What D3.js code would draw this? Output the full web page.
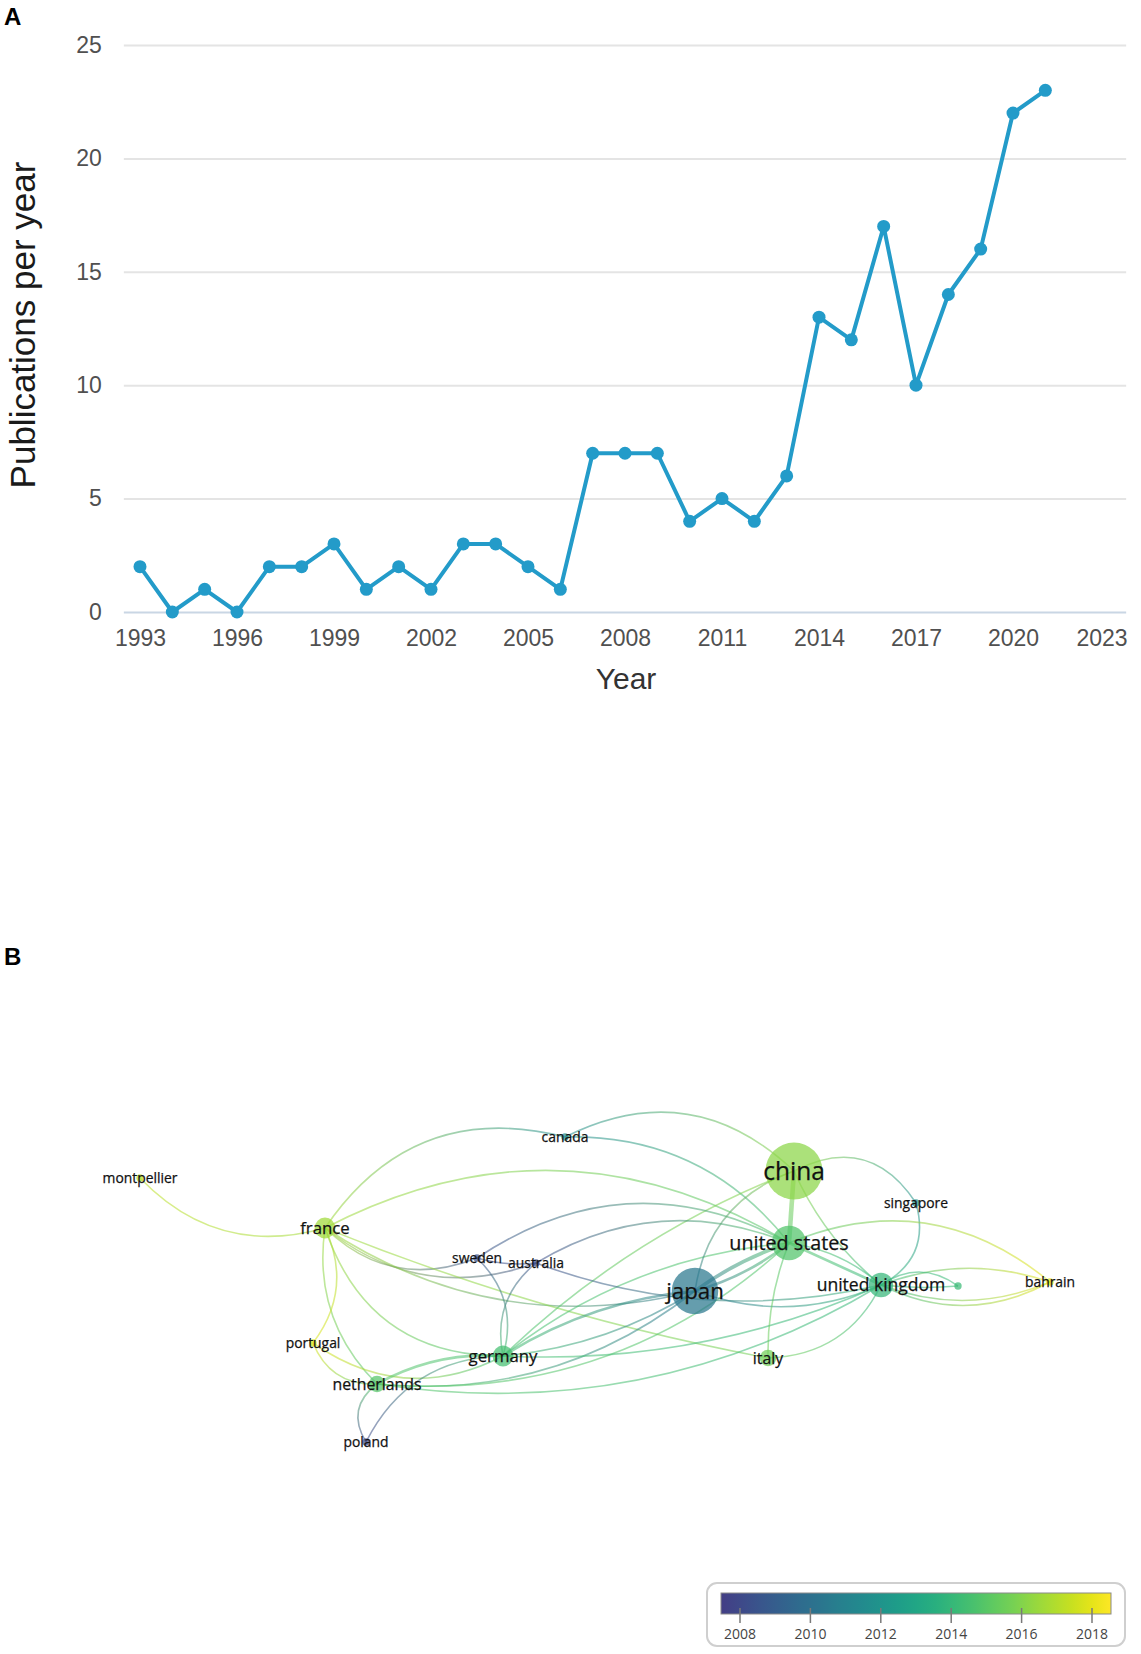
<!DOCTYPE html>
<html>
<head>
<meta charset="utf-8">
<script src="https://cdn.jsdelivr.net/npm/d3@7"></script>
<style>
  body { margin: 0; background: #fff; }
  svg { display: block; }
</style>
</head>
<body>
<svg id="chart" width="1141" height="1654"></svg>
<script>
// ---- panel A data ----
const years = [1993, 1994, 1995, 1996, 1997, 1998, 1999, 2000, 2001, 2002, 2003, 2004, 2005, 2006, 2007,
  2008, 2009, 2010, 2011, 2012, 2013, 2014, 2015, 2016, 2017, 2018, 2019, 2020, 2021];
const pubs = [2, 0, 1, 0, 2, 2, 3, 1, 2, 1, 3, 3, 2, 1, 7, 7, 7, 4, 5, 4, 6, 13, 12, 17, 10, 14, 16, 22, 23];
const xTicks = [1993, 1996, 1999, 2002, 2005, 2008, 2011, 2014, 2017, 2020, 2023];
const yTicks = [0, 5, 10, 15, 20, 25];

// ---- panel B data (VOSviewer-like map coordinates) ----
const countries = ["montpellier", "france", "canada", "china", "singapore", "united states", "sweden",
  "australia", "japan", "united kingdom", "", "bahrain", "portugal", "germany", "italy", "netherlands", "poland"];
const mapX = [-4.50, -2.65, -0.25, 2.04, 3.26, 1.99, -1.13, -0.54, 1.05, 2.91, 3.68, 4.60, -2.77, -0.87, 1.78, -2.13, -2.24];
const mapY = [-1.12, -0.62, -1.53, -1.19, -0.87, -0.47, -0.32, -0.27, 0.01, -0.05, -0.04, -0.08, 0.53, 0.66, 0.68, 0.94, 1.52];
const docs = [1, 8, 1, 60, 1, 22, 1, 1, 40, 11, 1, 1, 1, 8, 5, 5, 1];
const avgYear = [2017.2, 2016.6, 2011.6, 2016.2, 2011.8, 2014.8, 2008.4, 2008.2, 2010.4, 2014.0, 2014.2,
  2018.0, 2017.8, 2014.5, 2015.6, 2014.9, 2008.0];
// [source, target, bend, strength]
const links = [
  ["montpellier", "france", 0.30, 1],
  ["france", "canada", -0.35, 1],
  ["canada", "china", -0.35, 1],
  ["canada", "united states", -0.25, 1],
  ["france", "united states", -0.28, 1],
  ["france", "sweden", 0.32, 1],
  ["france", "australia", 0.28, 1],
  ["france", "japan", 0.22, 1],
  ["france", "italy", 0.05, 1],
  ["france", "germany", 0.36, 1],
  ["france", "netherlands", 0.25, 1],
  ["france", "portugal", -0.30, 1],
  ["portugal", "netherlands", 0.35, 1],
  ["portugal", "germany", 0.30, 1],
  ["netherlands", "poland", 0.45, 1],
  ["poland", "germany", -0.30, 1],
  ["netherlands", "germany", -0.15, 2],
  ["netherlands", "japan", 0.20, 1],
  ["netherlands", "united states", 0.22, 1],
  ["netherlands", "united kingdom", 0.18, 1],
  ["germany", "sweden", 0.30, 1],
  ["germany", "australia", -0.30, 1],
  ["germany", "japan", -0.12, 2],
  ["germany", "japan", 0.12, 1],
  ["germany", "united states", -0.15, 1],
  ["germany", "china", -0.10, 1],
  ["germany", "united kingdom", 0.12, 1],
  ["sweden", "australia", 0.10, 1],
  ["sweden", "united states", -0.30, 1],
  ["australia", "united states", -0.25, 1],
  ["australia", "united kingdom", 0.15, 1],
  ["japan", "china", -0.30, 1],
  ["japan", "united states", -0.08, 3],
  ["japan", "united states", 0.10, 2],
  ["japan", "united kingdom", 0.20, 1],
  ["china", "united states", 0.00, 4],
  ["china", "united kingdom", 0.12, 1],
  ["china", "singapore", -0.45, 1],
  ["singapore", "united kingdom", -0.40, 1],
  ["united states", "united kingdom", 0.00, 2],
  ["united states", "united kingdom", -0.15, 1],
  ["united states", "bahrain", -0.30, 1],
  ["united kingdom", "bahrain", -0.18, 1],
  ["united kingdom", "bahrain", 0.20, 1],
  ["united kingdom", "bahrain", 0.26, 1],
  ["united kingdom", "", -0.35, 1],
  ["united kingdom", "", 0.05, 1],
  ["italy", "united kingdom", 0.30, 1],
  ["italy", "united states", -0.10, 1]
];
const legendTicks = [2008, 2010, 2012, 2014, 2016, 2018];

const svg = d3.select("#chart");

// ================= Panel A =================
const lineColor = "#239bc9";
const x = d3.scaleLinear().domain([1993, 2020]).range([140, 1013]);
const y = d3.scaleLinear().domain([0, 25]).range([612, 45]);
const plotLeft = x(1992.5), plotRight = x(2023.5);

svg.append("text")
  .attr("x", 4).attr("y", 25)
  .attr("font-family", "Liberation Sans, Arial, sans-serif")
  .attr("font-weight", "bold").attr("font-size", 24)
  .text("A");

const panelA = svg.append("g");

// y axis with gridlines
const yAxis = panelA.append("g")
  .attr("transform", `translate(${plotLeft},0)`)
  .call(d3.axisLeft(y).tickValues(yTicks).tickSize(-(plotRight - plotLeft)).tickPadding(22));
yAxis.select(".domain").remove();
yAxis.selectAll(".tick line")
  .attr("stroke", d => d === 0 ? "#c9d6e4" : "#e4e4e4")
  .attr("stroke-width", 2);
yAxis.selectAll(".tick text")
  .attr("font-family", "Liberation Sans, Arial, sans-serif")
  .attr("font-size", 23).attr("fill", "#505050");

// x axis labels
const xAxis = panelA.append("g")
  .attr("transform", `translate(0,${y(0)})`)
  .call(d3.axisBottom(x).tickValues(xTicks).tickFormat(d3.format("d")).tickSize(0).tickPadding(18));
xAxis.select(".domain").remove();
xAxis.selectAll(".tick text")
  .attr("font-family", "Liberation Sans, Arial, sans-serif")
  .attr("font-size", 23).attr("fill", "#505050")
  .each(function(d) {
    // keep the last label inside the grid like the original
    const w = this.getComputedTextLength();
    if (x(d) + w / 2 > plotRight) {
      d3.select(this).attr("text-anchor", "end").attr("x", plotRight - x(d) + 1);
    }
  });

panelA.append("text")
  .attr("x", 626).attr("y", 689)
  .attr("text-anchor", "middle")
  .attr("font-family", "Liberation Sans, Arial, sans-serif")
  .attr("font-size", 30).attr("fill", "#333")
  .text("Year");

panelA.append("text")
  .attr("transform", "translate(35,325) rotate(-90)")
  .attr("text-anchor", "middle")
  .attr("font-family", "Liberation Sans, Arial, sans-serif")
  .attr("font-size", 35).attr("fill", "#1a1a1a")
  .text("Publications per year");

const series = years.map((yr, i) => ({ yr, v: pubs[i] }));
panelA.append("path")
  .datum(series)
  .attr("fill", "none")
  .attr("stroke", lineColor)
  .attr("stroke-width", 4)
  .attr("stroke-linejoin", "round")
  .attr("d", d3.line().x(d => x(d.yr)).y(d => y(d.v)));

panelA.selectAll("circle.dot")
  .data(series)
  .enter()
  .append("circle")
  .attr("class", "dot")
  .attr("cx", d => x(d.yr))
  .attr("cy", d => y(d.v))
  .attr("r", 6.5)
  .attr("fill", lineColor);

// ================= Panel B =================
svg.append("text")
  .attr("x", 4).attr("y", 965)
  .attr("font-family", "Liberation Sans, Arial, sans-serif")
  .attr("font-weight", "bold").attr("font-size", 24)
  .text("B");

const mx = d3.scaleLinear().domain([-5, 5]).range([90, 1090]);
const my = d3.scaleLinear().domain([-2, 2]).range([1090, 1490]);
const rScale = d3.scaleSqrt().domain([0, 60]).range([0, 28.5]);
// viridis as in the VOSviewer overlay legend
const yearT = d3.scaleLinear().domain([2008, 2018]).range([0.22, 0.96]);
const yearColor = yr => d3.interpolateViridis(Math.max(0, Math.min(1, yearT(yr))));

const nodes = countries.map((name, i) => ({
  name,
  x: mx(mapX[i]),
  y: my(mapY[i]),
  r: rScale(docs[i]),
  color: yearColor(avgYear[i])
}));
const byName = new Map(nodes.map(n => [n.name, n]));

const defs = svg.append("defs");
const net = svg.append("g");

const edgeData = links.map(([s, t, bend, w], i) => {
  const a = byName.get(s), b = byName.get(t);
  return { a, b, bend, w, id: "lg" + i };
});

edgeData.forEach(e => {
  const g = defs.append("linearGradient")
    .attr("id", e.id)
    .attr("gradientUnits", "userSpaceOnUse")
    .attr("x1", e.a.x).attr("y1", e.a.y)
    .attr("x2", e.b.x).attr("y2", e.b.y);
  g.append("stop").attr("offset", "0%").attr("stop-color", e.a.color);
  g.append("stop").attr("offset", "100%").attr("stop-color", e.b.color);
});

function curve(e) {
  const dx = e.b.x - e.a.x, dy = e.b.y - e.a.y;
  const cx = (e.a.x + e.b.x) / 2 - dy * e.bend;
  const cy = (e.a.y + e.b.y) / 2 + dx * e.bend;
  const p = d3.path();
  p.moveTo(e.a.x, e.a.y);
  p.quadraticCurveTo(cx, cy, e.b.x, e.b.y);
  return p.toString();
}

net.selectAll("path.link")
  .data(edgeData)
  .enter()
  .append("path")
  .attr("class", "link")
  .attr("d", curve)
  .attr("fill", "none")
  .attr("stroke", e => `url(#${e.id})`)
  .attr("stroke-width", e => 0.6 + e.w * 1.0)
  .attr("stroke-opacity", 0.55);

net.selectAll("circle.node")
  .data(nodes)
  .enter()
  .append("circle")
  .attr("class", "node")
  .attr("cx", d => d.x)
  .attr("cy", d => d.y)
  .attr("r", d => d.r)
  .attr("fill", d => d.color)
  .attr("fill-opacity", 0.72);

net.selectAll("text.label")
  .data(nodes.filter(d => d.name))
  .enter()
  .append("text")
  .attr("class", "label")
  .attr("x", d => d.x)
  .attr("y", d => d.y)
  .attr("dy", "0.36em")
  .attr("text-anchor", "middle")
  .attr("font-family", "Open Sans, sans-serif")
  .attr("font-size", d => 12.3 + 0.43 * d.r)
  .attr("fill", "#111")
  .attr("stroke", "#111")
  .attr("stroke-width", 0.25)
  .text(d => d.name);

// ---- colour legend ----
const lx = d3.scaleLinear().domain([2008, 2018]).range([740, 1092]);
const barY = 1593, barH = 21;
const legend = svg.append("g");

legend.append("rect")
  .attr("x", 707).attr("y", 1583)
  .attr("width", 418).attr("height", 63)
  .attr("rx", 10)
  .attr("fill", "#fff")
  .attr("stroke", "#cfcfcf")
  .attr("stroke-width", 2);

const barStart = lx.invert(721), barEnd = lx.invert(1111);
const grad = defs.append("linearGradient").attr("id", "legendGrad");
d3.range(0, 1.0001, 0.05).forEach(f => {
  grad.append("stop")
    .attr("offset", (f * 100) + "%")
    .attr("stop-color", yearColor(barStart + f * (barEnd - barStart)));
});

legend.append("rect")
  .attr("x", 721).attr("y", barY)
  .attr("width", 390).attr("height", barH)
  .attr("fill", "url(#legendGrad)")
  .attr("stroke", "#8a8a8a")
  .attr("stroke-width", 1);

legend.selectAll("line.ltick")
  .data(legendTicks)
  .enter()
  .append("line")
  .attr("class", "ltick")
  .attr("x1", d => lx(d)).attr("x2", d => lx(d))
  .attr("y1", 1608).attr("y2", 1623)
  .attr("stroke", "#7a7a7a")
  .attr("stroke-width", 1.5);

legend.selectAll("text.ltext")
  .data(legendTicks)
  .enter()
  .append("text")
  .attr("class", "ltext")
  .attr("x", d => lx(d))
  .attr("y", 1639)
  .attr("text-anchor", "middle")
  .attr("font-family", "Open Sans, sans-serif")
  .attr("font-size", 14)
  .attr("fill", "#444")
  .text(d => d);
</script>
</body>
</html>
